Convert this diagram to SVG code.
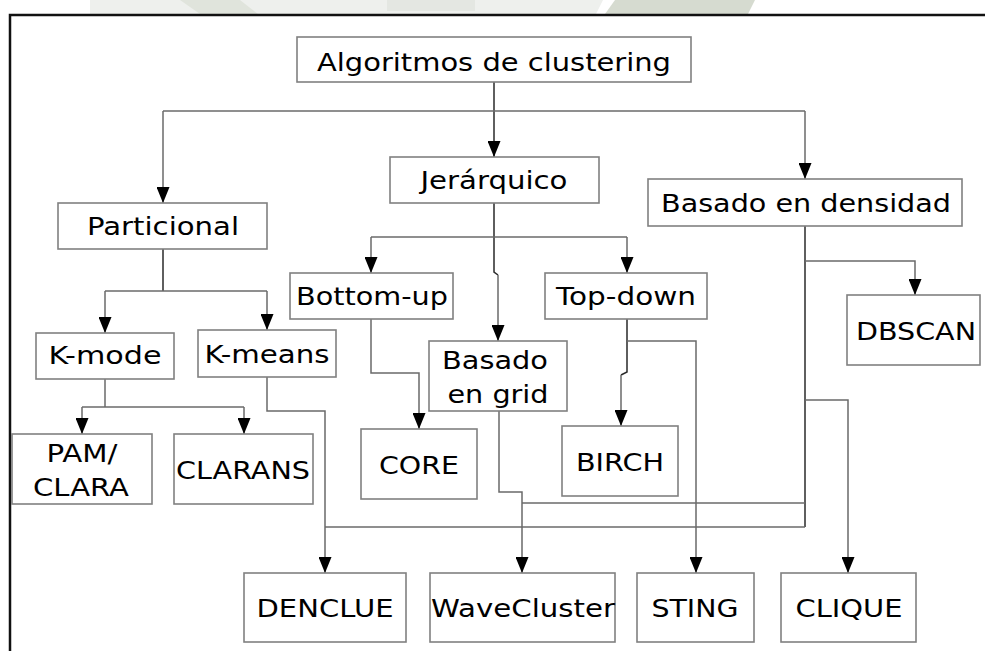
<svg xmlns="http://www.w3.org/2000/svg" width="985" height="651" viewBox="0 0 985 651">
  <defs>
    <marker id="arrow" viewBox="0 0 16 13" refX="16" refY="6.5" markerWidth="16" markerHeight="13" markerUnits="userSpaceOnUse" orient="auto">
      <path d="M0,0 L16,6.5 L0,13 Z" fill="#000"/>
    </marker>
    <style>
      .box { fill: #fff; stroke: #808080; stroke-width: 1.6; }
      .lbl { font-family: "DejaVu Sans", "Verdana", sans-serif; font-size: 25px; fill: #000; text-anchor: middle; }
      .wire { fill: none; stroke: #6a6a6a; stroke-width: 1.5; }
      .trunk { fill: none; stroke: #2a2a2a; stroke-width: 1.5; }
      .arr { marker-end: url(#arrow); }
    </style>
  </defs>

  <rect width="985" height="651" fill="#fff"/>

  <!-- faint header band above the frame -->
  <g id="header-band">
    <polygon points="90,0 603,0 596,14 90,14" fill="#eef0ed"/>
    <polygon points="180,0 240,0 258,14 200,14" fill="#e0e4dc"/>
    <rect x="387" y="0" width="88" height="11" fill="#e4e7e2"/>
    <polygon points="615,0 755,0 748,14 605,14" fill="#d6dbd0"/>
  </g>

  <!-- frame -->
  <path d="M10,651 V15 H985" fill="none" stroke="#111" stroke-width="2.5"/>

  <g id="connectors">
    <!-- root -->
    <path class="trunk arr" d="M494,82 V157"/>
    <path class="wire" d="M163,111 H805"/>
    <path class="wire arr" d="M163,111 V203"/>
    <path class="wire arr" d="M805,111 V179"/>
    <!-- Particional -->
    <path class="trunk" d="M163,249 V291"/>
    <path class="wire" d="M105,291 H267"/>
    <path class="wire arr" d="M105,291 V333"/>
    <path class="wire arr" d="M267,291 V330"/>
    <!-- Jerarquico -->
    <path class="trunk" d="M494,203 V272 L498,275"/>
    <path class="wire" d="M371,237 H627"/>
    <path class="wire arr" d="M371,237 V273"/>
    <path class="wire arr" d="M627,237 V273"/>
    <path class="wire arr" d="M498,275 V341"/>
    <!-- Basado en densidad -->
    <path class="trunk" d="M805,226 V527"/>
    <path class="wire arr" d="M805,261 H915 V295"/>
    <path class="wire arr" d="M805,400 H848 V573"/>
    <path class="wire" d="M805,503 H522"/>
    <path class="wire" d="M805,527 H325"/>
    <!-- Bottom-up -->
    <path class="wire arr" d="M371,319 V373 H419 V429"/>
    <!-- Top-down -->
    <path class="trunk" d="M627,319 V372 L621,375"/>
    <path class="wire arr" d="M621,375 V426"/>
    <path class="wire arr" d="M627,341 H696 V573"/>
    <!-- K-mode -->
    <path class="wire" d="M105,379 V407"/>
    <path class="wire" d="M82,407 H244"/>
    <path class="wire arr" d="M82,407 V434"/>
    <path class="wire arr" d="M244,407 V434"/>
    <!-- K-means -->
    <path class="wire arr" d="M267,377 V411 H325 V573"/>
    <!-- Basado en grid -->
    <path class="wire arr" d="M499,411 V492 H522 V573"/>
  </g>

  <g id="root">
    <rect class="box" x="297" y="37" width="394" height="45"/>
    <text class="lbl" x="494" y="71" textLength="354" lengthAdjust="spacingAndGlyphs">Algoritmos de clustering</text>
  </g>
  <g id="jerarquico">
    <rect class="box" x="390" y="157" width="209" height="46"/>
    <text class="lbl" x="494" y="189" textLength="147" lengthAdjust="spacingAndGlyphs">Jerárquico</text>
  </g>
  <g id="densidad">
    <rect class="box" x="648" y="179" width="314" height="47"/>
    <text class="lbl" x="806" y="212" textLength="290" lengthAdjust="spacingAndGlyphs">Basado en densidad</text>
  </g>
  <g id="particional">
    <rect class="box" x="58" y="203" width="209" height="46"/>
    <text class="lbl" x="163" y="235" textLength="152" lengthAdjust="spacingAndGlyphs">Particional</text>
  </g>
  <g id="k-mode">
    <rect class="box" x="36" y="333" width="138" height="46"/>
    <text class="lbl" x="105" y="364" textLength="113" lengthAdjust="spacingAndGlyphs">K-mode</text>
  </g>
  <g id="k-means">
    <rect class="box" x="198" y="330" width="138" height="47"/>
    <text class="lbl" x="267" y="363" textLength="125" lengthAdjust="spacingAndGlyphs">K-means</text>
  </g>
  <g id="bottom-up">
    <rect class="box" x="290" y="273" width="163" height="46"/>
    <text class="lbl" x="372" y="305" textLength="152" lengthAdjust="spacingAndGlyphs">Bottom-up</text>
  </g>
  <g id="top-down">
    <rect class="box" x="545" y="273" width="162" height="46"/>
    <text class="lbl" x="626" y="305" textLength="140" lengthAdjust="spacingAndGlyphs">Top-down</text>
  </g>
  <g id="dbscan">
    <rect class="box" x="847" y="295" width="133" height="70"/>
    <text class="lbl" x="916" y="340" textLength="120" lengthAdjust="spacingAndGlyphs">DBSCAN</text>
  </g>
  <g id="grid">
    <rect class="box" x="429" y="341" width="138" height="70"/>
    <text class="lbl" x="495" y="369" textLength="106" lengthAdjust="spacingAndGlyphs">Basado</text>
    <text class="lbl" x="498" y="403" textLength="101" lengthAdjust="spacingAndGlyphs">en grid</text>
  </g>
  <g id="core">
    <rect class="box" x="361" y="429" width="116" height="70"/>
    <text class="lbl" x="419" y="474" textLength="80" lengthAdjust="spacingAndGlyphs">CORE</text>
  </g>
  <g id="birch">
    <rect class="box" x="562" y="426" width="116" height="70"/>
    <text class="lbl" x="620" y="471" textLength="88" lengthAdjust="spacingAndGlyphs">BIRCH</text>
  </g>
  <g id="pam-clara">
    <rect class="box" x="12" y="434" width="140" height="70"/>
    <text class="lbl" x="82" y="462" textLength="71" lengthAdjust="spacingAndGlyphs">PAM/</text>
    <text class="lbl" x="81" y="496" textLength="96" lengthAdjust="spacingAndGlyphs">CLARA</text>
  </g>
  <g id="clarans">
    <rect class="box" x="174" y="434" width="139" height="70"/>
    <text class="lbl" x="243" y="479" textLength="134" lengthAdjust="spacingAndGlyphs">CLARANS</text>
  </g>
  <g id="denclue">
    <rect class="box" x="244" y="573" width="162" height="69"/>
    <text class="lbl" x="325" y="617" textLength="137" lengthAdjust="spacingAndGlyphs">DENCLUE</text>
  </g>
  <g id="wavecluster">
    <rect class="box" x="430" y="573" width="185" height="69"/>
    <text class="lbl" x="523" y="617" textLength="184" lengthAdjust="spacingAndGlyphs">WaveCluster</text>
  </g>
  <g id="sting">
    <rect class="box" x="637" y="573" width="117" height="69"/>
    <text class="lbl" x="695" y="617" textLength="87" lengthAdjust="spacingAndGlyphs">STING</text>
  </g>
  <g id="clique">
    <rect class="box" x="781" y="573" width="135" height="69"/>
    <text class="lbl" x="849" y="617" textLength="107" lengthAdjust="spacingAndGlyphs">CLIQUE</text>
  </g>
</svg>
